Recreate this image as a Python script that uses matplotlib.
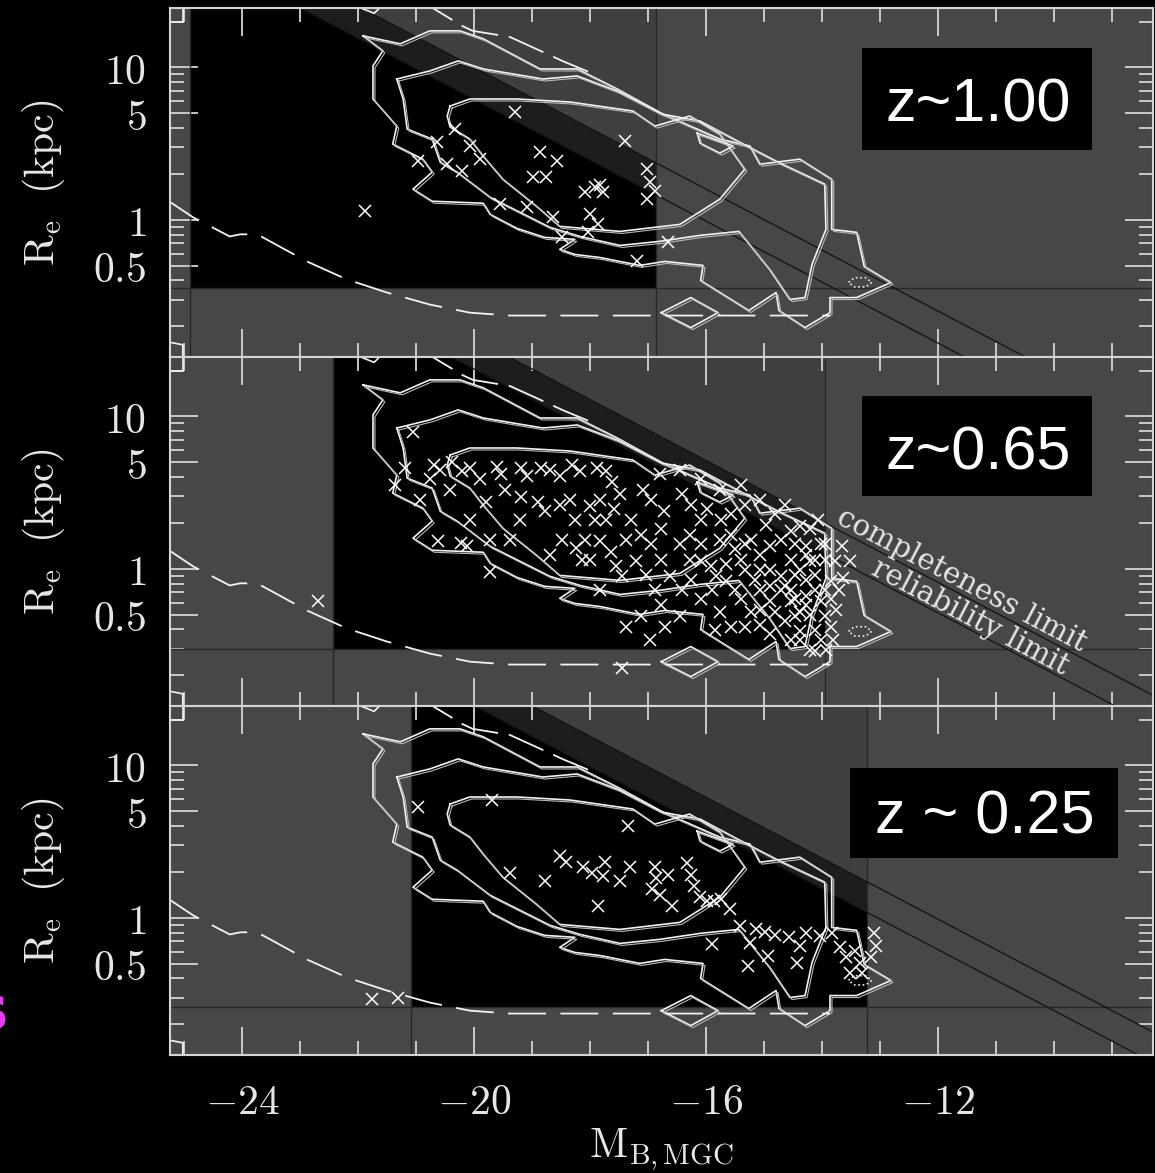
import numpy as np
import matplotlib
matplotlib.use("Agg")
import matplotlib.pyplot as plt
from matplotlib.patches import Rectangle
from matplotlib.ticker import FixedLocator, FixedFormatter, NullFormatter
from matplotlib.transforms import offset_copy

plt.rcParams['mathtext.fontset'] = 'cm'

# shared axis ranges (absolute magnitude, log10 of Re in kpc)
X_RANGE = (-25.25, -8.3)
LOG_R_RANGE = (-0.9, 1.39)

# one entry per redshift bin, top to bottom
PANEL_LABELS = ["z~1.00", "z~0.65", "z ~ 0.25"]
M_BRIGHT = [-24.9, -22.44, -21.1]
M_FAINT = [-16.87, -13.96, -13.23]
R_MIN = [0.358, 0.30, 0.26]
# surface brightness limits: log Re = -0.2 M + zp
COMPLETENESS_ZP = [-3.00, -2.49, -2.41]
RELIABILITY_ZP = [-3.21, -2.69, -2.61]

X_MAJOR = [-24, -20, -16, -12]
X_MAJOR_LABELS = [r'$-24$', r'$-20$', r'$-16$', r'$-12$']
X_MINOR = [-25, -23, -22, -21, -19, -18, -17, -15, -14, -13, -11, -10, -9]
Y_MAJOR = [0.5, 1, 5, 10]
Y_MAJOR_LABELS = [r'$0.5$', r'$1$', r'$5$', r'$10$']
Y_MINOR = [0.2, 0.3, 0.4, 0.6, 0.7, 0.8, 0.9, 2, 3, 4, 6, 7, 8, 9, 20]

# local (MGC) bivariate brightness distribution contours, (M, log Re)
CONTOUR_OUTER = [
    (-21.92, 1.207), (-21.28, 1.155), (-20.77, 1.240), (-20.25, 1.240), (-19.85, 1.188),
    (-18.87, 0.990), (-18.23, 0.990), (-17.54, 0.859), (-16.75, 0.694), (-15.77, 0.530),
    (-15.25, 0.484), (-15.08, 0.365), (-14.39, 0.398), (-13.84, 0.266), (-13.84, -0.063),
    (-13.41, -0.082), (-13.28, -0.306), (-12.82, -0.411), (-13.41, -0.510), (-13.87, -0.510),
    (-13.87, -0.609), (-14.30, -0.707), (-14.75, -0.595), (-14.80, -0.477), (-15.27, -0.595),
    (-16.10, -0.398), (-16.06, -0.299), (-16.72, -0.273), (-17.15, -0.299), (-17.84, -0.247),
    (-18.27, -0.227), (-18.53, -0.194), (-18.27, -0.128), (-18.79, -0.115), (-19.27, -0.056),
    (-19.73, 0.036), (-19.85, 0.109), (-20.73, 0.122), (-21.06, 0.201), (-20.73, 0.313),
    (-20.89, 0.398), (-21.41, 0.497), (-21.34, 0.615), (-21.75, 0.793), (-21.75, 1.010),
    (-21.58, 1.109),
]
CONTOUR_MIDDLE = [
    (-21.34, 0.924), (-20.77, 0.977), (-20.28, 1.043), (-19.85, 0.990), (-18.82, 0.924),
    (-18.23, 0.944), (-17.54, 0.845), (-16.77, 0.694), (-16.11, 0.648), (-15.30, 0.484),
    (-14.73, 0.372), (-13.96, 0.234), (-13.94, -0.063), (-14.18, -0.293), (-14.30, -0.510),
    (-14.56, -0.523), (-14.91, -0.326), (-15.44, -0.076), (-16.11, -0.102), (-16.80, -0.141),
    (-17.49, -0.168), (-18.18, -0.109), (-18.70, -0.049), (-19.73, 0.148), (-20.30, 0.313),
    (-20.59, 0.378), (-20.73, 0.530), (-21.16, 0.595), (-21.23, 0.793),
]
CONTOUR_INNER = [
    (-20.42, 0.747), (-20.08, 0.793), (-19.27, 0.793), (-18.35, 0.773), (-17.27, 0.714),
    (-16.89, 0.615), (-16.29, 0.681), (-15.77, 0.563), (-15.34, 0.332), (-15.77, 0.135),
    (-16.46, -0.030), (-17.49, -0.076), (-18.53, -0.043), (-18.93, 0.089), (-19.51, 0.266),
    (-19.85, 0.418), (-20.08, 0.530), (-20.42, 0.609), (-20.47, 0.681),
]
CONTOUR_ISLANDS = [
    [(-16.78, -0.609), (-16.27, -0.510), (-15.80, -0.609), (-16.27, -0.707)],
    [(-16.16, 0.569), (-15.54, 0.484), (-15.77, 0.438), (-16.11, 0.503)],
]
CONTOUR_OPEN = [
    [(-22.03, 1.40), (-21.73, 1.355), (-21.61, 1.40)],
    [(-25.30, 1.30), (-25.03, 1.30), (-25.03, 1.40)],
    [(-25.30, -0.80), (-25.03, -0.82), (-25.03, -0.92)],
]
DOTTED_LOOP = [(-13.55, -0.41), (-13.45, -0.38), (-13.25, -0.38), (-13.15, -0.41),
               (-13.25, -0.44), (-13.45, -0.44), (-13.55, -0.41)]

# seeing limit (lower) and surface brightness limit (upper) of the local sample
SEEING_M = [-25.3, -24.85, -24.22, -24.04, -23.75, -23.65, -22.89, -22.20, -21.51,
            -20.77, -20.08, -19.39, -13.87]
SEEING_LOGR = [0.13, 0.016, -0.109, -0.095, -0.095, -0.115, -0.273, -0.391, -0.477,
               -0.556, -0.609, -0.628, -0.628]
SB_M = [-20.94, -20.20, -20.03, -19.39, -18.87, -18.47, -17.90]
SB_LOGR = [1.44, 1.27, 1.24, 1.20, 1.11, 1.04, 0.95]

# galaxies in each redshift bin, (M, log Re)
POINTS_Z100 = [
    (-19.30, 0.707), (-20.34, 0.595), (-20.65, 0.510), (-20.08, 0.484), (-19.91, 0.398),
    (-20.97, 0.385), (-20.47, 0.365), (-20.22, 0.319), (-18.87, 0.444), (-18.58, 0.385),
    (-18.99, 0.280), (-18.77, 0.280), (-18.09, 0.181), (-17.92, 0.214), (-17.78, 0.181),
    (-17.84, 0.227), (-17.03, 0.332), (-16.97, 0.247), (-16.89, 0.188), (-17.03, 0.135),
    (-19.56, 0.102), (-19.09, 0.082), (-18.65, 0.016), (-18.01, 0.036), (-17.87, -0.030),
    (-18.04, -0.082), (-18.49, -0.115), (-21.89, 0.056), (-17.20, -0.273), (-16.66, -0.148),
    (-17.41, 0.516),
]
POINTS_Z065 = [
    (-22.70, -0.21), (-21.06, 0.90), (-21.37, 0.55), (-21.20, 0.66), (-20.70, 0.68),
    (-20.60, 0.65), (-20.39, 0.70), (-20.22, 0.64), (-20.08, 0.66), (-20.63, 0.18),
    (-20.23, 0.17), (-20.13, 0.15), (-19.73, -0.02), (-19.80, 0.44), (-19.74, 0.19),
    (-19.61, 0.67), (-19.54, 0.62), (-19.20, 0.66), (-19.10, 0.61), (-18.86, 0.66),
    (-18.70, 0.65), (-18.53, 0.61), (-18.32, 0.68), (-18.18, 0.64), (-17.89, 0.66),
    (-17.74, 0.64), (-17.63, 0.57), (-19.20, 0.47), (-18.91, 0.44), (-18.79, 0.38),
    (-18.36, 0.45), (-18.01, 0.41), (-17.74, 0.32), (-17.60, 0.39), (-17.10, 0.52),
    (-16.95, 0.45), (-16.74, 0.38), (-16.43, 0.49), (-16.26, 0.42), (-16.09, 0.32),
    (-15.99, 0.39), (-15.75, 0.32), (-15.58, 0.36), (-15.34, 0.42), (-18.49, 0.19),
    (-18.25, 0.14), (-18.15, 0.06), (-17.84, 0.18), (-17.65, 0.11), (-17.56, 0.02),
    (-17.46, -0.05), (-17.22, 0.05), (-16.96, 0.16), (-16.79, 0.06), (-16.62, -0.05),
    (-16.43, -0.14), (-16.27, -0.07), (-16.10, 0.05), (-15.93, 0.02), (-15.84, -0.05),
    (-15.67, -0.08), (-15.50, -0.14), (-15.33, -0.01), (-15.07, 0.09), (-14.90, 0.15),
    (-14.72, 0.19), (-14.55, 0.25), (-14.38, 0.28), (-14.29, 0.15), (-14.21, 0.05),
    (-15.07, -0.14), (-14.90, -0.21), (-14.82, -0.28), (-14.72, -0.05), (-14.64, -0.11),
    (-14.55, -0.21), (-14.47, -0.31), (-14.38, -0.28), (-14.29, -0.18), (-14.12, -0.14),
    (-14.03, -0.21), (-13.95, -0.31), (-13.86, -0.08), (-13.78, 0.05), (-13.67, 0.15),
    (-17.39, -0.38), (-17.13, -0.31), (-16.79, -0.24), (-16.71, -0.38), (-16.45, -0.31),
    (-15.76, -0.28), (-15.58, -0.38), (-15.33, -0.38), (-15.24, -0.28), (-17.46, -0.65),
    (-14.55, -0.47), (-14.38, -0.41), (-14.12, -0.54), (-14.03, -0.47), (-13.86, -0.38),
    (-13.52, 0.05), (-16.28, 0.22), (-16.10, 0.16), (-15.76, 0.19), (-15.50, 0.13),
    (-15.24, 0.19), (-14.98, 0.29), (-14.81, 0.36), (-14.55, 0.06), (-14.38, -0.01),
    (-14.12, -0.04), (-13.95, 0.06), (-14.03, 0.16), (-14.21, 0.26), (-14.90, -0.01),
    (-15.16, -0.07), (-15.41, -0.20), (-15.07, -0.27), (-14.64, -0.34), (-14.21, -0.30),
    (-14.12, -0.40), (-13.95, -0.14), (-13.86, -0.20), (-14.29, -0.07), (-14.47, -0.04),
    (-14.72, -0.14), (-14.90, -0.11), (-15.90, -0.14), (-16.10, -0.20), (-16.28, 0.06),
    (-16.45, 0.16), (-16.79, 0.26), (-17.13, 0.22), (-17.30, 0.32), (-17.38, 0.19),
    (-17.05, -0.04), (-16.88, -0.14), (-17.84, -0.14), (-18.01, 0.06), (-18.27, 0.32),
    (-18.53, 0.42), (-19.22, 0.32), (-19.39, 0.19), (-19.48, 0.52), (-19.91, 0.59),
    (-20.43, 0.52), (-20.77, 0.59), (-20.94, 0.45), (-17.84, 0.45), (-17.49, 0.49),
    (-16.80, 0.62), (-16.45, 0.65), (-16.10, 0.59), (-15.76, 0.52), (-15.41, 0.55),
    (-15.07, 0.45), (-14.64, 0.42), (-15.58, 0.22), (-15.33, 0.16), (-15.41, 0.06),
    (-15.67, 0.03), (-15.07, -0.01), (-14.47, 0.16), (-14.29, 0.09), (-14.12, 0.06),
    (-13.95, 0.16), (-14.08, 0.32), (-14.47, -0.20), (-14.29, -0.24), (-14.55, -0.14),
    (-14.38, -0.47), (-14.21, -0.53), (-13.93, -0.53), (-13.81, -0.47), (-13.76, -0.27),
    (-13.72, -0.14), (-13.64, -0.06), (-15.07, -0.37), (-14.90, -0.43), (-15.85, -0.40),
    (-16.97, -0.47), (-17.93, 0.32), (-18.10, 0.19), (-18.70, 0.09), (-20.08, 0.32),
]
POINTS_Z025 = [
    (-20.97, 0.730), (-19.70, 0.770), (-17.35, 0.605), (-19.39, 0.296), (-18.78, 0.243),
    (-17.87, 0.079), (-18.53, 0.408), (-18.42, 0.368), (-18.13, 0.336), (-17.97, 0.296),
    (-17.78, 0.276), (-17.49, 0.243), (-17.32, 0.336), (-16.89, 0.336), (-16.87, 0.263),
    (-16.94, 0.191), (-16.80, 0.151), (-16.66, 0.283), (-16.34, 0.362), (-16.27, 0.283),
    (-16.22, 0.211), (-16.11, 0.138), (-15.99, 0.112), (-15.87, 0.112), (-15.75, 0.125),
    (-15.91, -0.171), (-15.42, -0.053), (-15.25, -0.164), (-15.28, -0.316), (-15.15, -0.072),
    (-14.99, -0.092), (-14.82, -0.112), (-14.58, -0.125), (-14.39, -0.184), (-14.28, -0.099),
    (-14.94, -0.250), (-14.44, -0.296), (-14.04, -0.118), (-13.84, -0.099), (-13.70, -0.191),
    (-13.59, -0.257), (-13.44, -0.217), (-13.35, -0.296), (-13.53, -0.362), (-13.32, -0.362),
    (-13.11, -0.099), (-13.08, -0.184), (-13.16, -0.257), (-21.77, -0.533), (-21.32, -0.526),
    (-16.60, 0.079), (-15.60, 0.059), (-17.75, 0.368),
]
PANEL_POINTS = [POINTS_Z100, POINTS_Z065, POINTS_Z025]

FIG_W, FIG_H = 1155, 1173
AX_LEFT, AX_RIGHT = 170, 1153
PANEL_TOPS = [8, 357, 706]
PANEL_HEIGHT = 349
# black label boxes: (left, top, right, bottom) in pixels, text centre x and baseline y
LABEL_BOXES = [(862, 48, 1092, 150, 978, 122), (862, 396, 1092, 496, 978, 469),
               (850, 768, 1118, 858, 985, 833)]

GREY = '#474747'
LINE_COL = '#f2f2f2'
AXIS_COL = '#d4d4d4'


def draw_line(ax, pts, closed=True, **kw):
    m = [p[0] for p in pts]
    r = [10 ** p[1] for p in pts]
    if closed:
        m.append(m[0])
        r.append(r[0])
    ax.plot(m, r, **kw)


def draw_contours(ax, fig):
    shifted = offset_copy(ax.transData, fig=fig, x=2, y=-2, units='dots')
    for pts in [CONTOUR_OUTER, CONTOUR_MIDDLE, CONTOUR_INNER] + CONTOUR_ISLANDS:
        draw_line(ax, pts, color=LINE_COL, lw=1.2, zorder=5)
        draw_line(ax, pts, color='#b8b8b8', lw=0.8, zorder=5, transform=shifted)
    for pts in CONTOUR_OPEN:
        draw_line(ax, pts, closed=False, color=LINE_COL, lw=1.2, zorder=5)
    draw_line(ax, DOTTED_LOOP, closed=False, color=LINE_COL, lw=1.2, ls=':', zorder=5)
    ax.plot(SEEING_M, 10 ** np.array(SEEING_LOGR), color=LINE_COL, lw=1.3,
            dashes=(21, 8), zorder=5)
    ax.plot(SB_M, 10 ** np.array(SB_LOGR), color=LINE_COL, lw=1.3,
            dashes=(21, 6), zorder=5)


def setup_axis(ax, show_x):
    ax.set_facecolor(GREY)
    ax.set_yscale('log')
    ax.set_xlim(*X_RANGE)
    ax.set_ylim(10 ** LOG_R_RANGE[0], 10 ** LOG_R_RANGE[1])
    ax.xaxis.set_major_locator(FixedLocator(X_MAJOR))
    ax.xaxis.set_major_formatter(FixedFormatter(X_MAJOR_LABELS))
    ax.xaxis.set_minor_locator(FixedLocator(X_MINOR))
    ax.yaxis.set_major_locator(FixedLocator(Y_MAJOR))
    ax.yaxis.set_major_formatter(FixedFormatter(Y_MAJOR_LABELS))
    ax.yaxis.set_minor_locator(FixedLocator(Y_MINOR))
    ax.yaxis.set_minor_formatter(NullFormatter())
    ax.tick_params(which='both', direction='in', top=True, right=True,
                   color=AXIS_COL, width=1.3, labelcolor='#e6e6e6', labelsize=30)
    ax.tick_params(which='major', length=20)
    ax.tick_params(which='minor', length=10)
    ax.tick_params(axis='x', pad=19, labelbottom=show_x)
    ax.tick_params(axis='y', pad=17)
    for spine in ax.spines.values():
        spine.set_color(AXIS_COL)
        spine.set_linewidth(1.5)
        spine.set_zorder(10)
    ax.set_ylabel(r'$\mathrm{R_e}\ \ \mathrm{(kpc)}$', fontsize=30, color='#e6e6e6')
    ax.yaxis.set_label_coords(-0.105, 0.5)


def draw_panel(fig, ax, i):
    r_top = 10 ** LOG_R_RANGE[1]
    m = np.linspace(M_BRIGHT[i], M_FAINT[i], 400)
    rel = np.clip(10 ** (-0.2 * m + RELIABILITY_ZP[i]), R_MIN[i], r_top)
    comp = np.clip(10 ** (-0.2 * m + COMPLETENESS_ZP[i]), R_MIN[i], r_top)
    ax.fill_between(m, R_MIN[i], rel, color='black', lw=0, zorder=1)
    ax.fill_between(m, rel, comp, color='#1d1d1d', lw=0, zorder=1)
    ax.fill_between(m, comp, r_top, color='#3f3f3f', lw=0, zorder=1)

    # selection box edges run across the whole panel
    for mb in (M_BRIGHT[i], M_FAINT[i]):
        ax.axvline(mb, color='#282828', lw=1.0, zorder=2)
    ax.axhline(R_MIN[i], color='#282828', lw=1.0, zorder=2)

    mm = np.linspace(X_RANGE[0], X_RANGE[1], 60)
    for zp in (COMPLETENESS_ZP[i], RELIABILITY_ZP[i]):
        ax.plot(mm, 10 ** (-0.2 * mm + zp), color='#121212', lw=0.9, zorder=3)

    draw_contours(ax, fig)

    pts = np.array(PANEL_POINTS[i])
    ax.plot(pts[:, 0], 10 ** pts[:, 1], 'x', ms=8, mew=1.1, color='white', zorder=6)


def limit_labels(ax, i):
    # text along the surface brightness limits
    labels = [("completeness limit", -11.6, -0.075, COMPLETENESS_ZP[i]),
              ("reliability limit", -11.45, -0.32, RELIABILITY_ZP[i])]
    for text, m0, logr, zp in labels:
        p0 = ax.transData.transform((m0 - 1.5, 10 ** (-0.2 * (m0 - 1.5) + zp)))
        p1 = ax.transData.transform((m0 + 1.5, 10 ** (-0.2 * (m0 + 1.5) + zp)))
        ang = np.degrees(np.arctan2(p1[1] - p0[1], p1[0] - p0[0]))
        ax.text(m0, 10 ** logr, text, rotation=ang, rotation_mode='anchor',
                ha='center', va='center', fontsize=21, family='DejaVu Serif',
                color='#e6e6e6', zorder=7)


def main():
    fig = plt.figure(figsize=(FIG_W / 100, FIG_H / 100), dpi=100, facecolor='black')
    axes = []
    for i, top in enumerate(PANEL_TOPS):
        rect = [AX_LEFT / FIG_W, 1 - (top + PANEL_HEIGHT) / FIG_H,
                (AX_RIGHT - AX_LEFT) / FIG_W, PANEL_HEIGHT / FIG_H]
        ax = fig.add_axes(rect)
        setup_axis(ax, show_x=(i == 2))
        draw_panel(fig, ax, i)
        axes.append(ax)

    limit_labels(axes[1], 1)

    axes[2].set_xlabel(r'$\mathrm{M_{B,MGC}}$', fontsize=30, color='#e6e6e6')
    axes[2].xaxis.set_label_coords(0.5, -0.205)

    for (x0, y0, x1, y1, tx, ty), label in zip(LABEL_BOXES, PANEL_LABELS):
        fig.patches.append(Rectangle((x0 / FIG_W, 1 - y1 / FIG_H), (x1 - x0) / FIG_W,
                                     (y1 - y0) / FIG_H, transform=fig.transFigure,
                                     facecolor='black', edgecolor='none', zorder=20))
        fig.text(tx / FIG_W, 1 - ty / FIG_H, label, ha='center', va='baseline',
                 fontsize=44, family='Liberation Sans', color='white', zorder=21)

    # edge of a slide character cut off at the left border
    fig.text(8 / FIG_W, 1 - 1012 / FIG_H, "s", ha='right', va='center', fontsize=44,
             family='DejaVu Sans', weight='bold', color='#e83cf2')

    fig.savefig('out.png', dpi=100, facecolor='black')


if __name__ == '__main__':
    main()
